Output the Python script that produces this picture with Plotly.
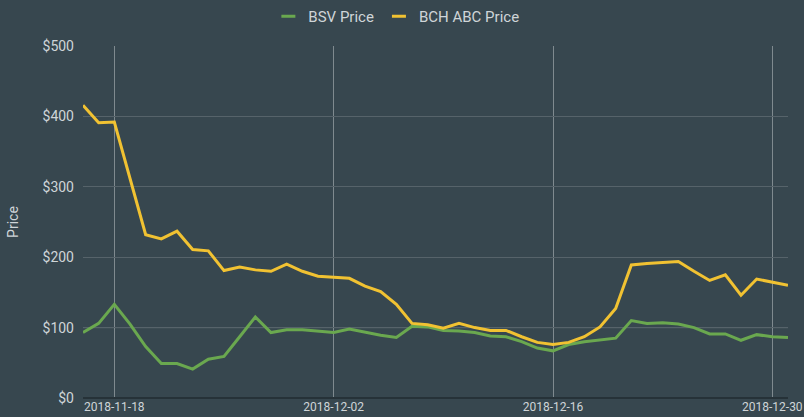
import plotly.graph_objects as go
import pandas as pd

dates = pd.date_range("2018-11-16", "2018-12-31", freq="D").strftime("%Y-%m-%d").tolist()

bsv_price = [93, 106, 133, 105, 73, 49, 49, 41, 55, 59, 87, 115, 93, 97, 97, 95,
             93, 98, 93, 89, 86, 102, 101, 96, 95, 93, 88, 87, 80, 71, 67, 76,
             80, 82, 85, 110, 106, 107, 105, 100, 91, 91, 82, 90, 87, 86]

bch_abc_price = [416, 391, 392, 313, 232, 226, 237, 211, 209, 181, 186, 182, 180, 190, 180, 173,
                 172, 170, 159, 151, 133, 106, 104, 99, 106, 100, 96, 96, 87, 79, 76, 79,
                 87, 101, 127, 189, 191, 193, 194, 180, 167, 175, 146, 169, 165, 160]

y_ticks = [0, 100, 200, 300, 400, 500]
y_tick_labels = ["$0", "$100", "$200", "$300", "$400", "$500"]
x_ticks = ["2018-11-18", "2018-12-02", "2018-12-16", "2018-12-30"]

BG = "#37474f"
TXT = "#cfd5d8"
GREEN = "#6aa84f"
YELLOW = "#f1c232"

fig = go.Figure()
fig.add_trace(go.Scatter(x=dates, y=bsv_price, name="BSV Price", mode="lines",
                         line=dict(color=GREEN, width=3), showlegend=False))
fig.add_trace(go.Scatter(x=dates, y=bch_abc_price, name="BCH ABC Price", mode="lines",
                         line=dict(color=YELLOW, width=3), showlegend=False))
# legend-only entries with short dash symbols
for nm, col in [("BSV Price", GREEN), ("BCH ABC Price", YELLOW)]:
    fig.add_trace(go.Scatter(x=[None], y=[None], name=nm, mode="markers",
                             marker=dict(symbol="line-ew", size=10,
                                         line=dict(color=col, width=3)),
                             showlegend=True, hoverinfo="skip"))

fig.add_shape(type="line", xref="paper", x0=0, x1=1, yref="y", y0=100, y1=100,
              line=dict(color="#7f8a8f", width=1), layer="below")

fig.update_layout(
    width=804, height=417,
    paper_bgcolor=BG, plot_bgcolor=BG,
    margin=dict(l=83, r=16, t=46, b=19, autoexpand=False),
    font=dict(family="Roboto, sans-serif", color=TXT, size=12),
    showlegend=True,
    legend=dict(orientation="h", x=0.493, xanchor="center", xref="container",
                y=1.0, yanchor="top", yref="container",
                font=dict(size=15, color=TXT), bgcolor="rgba(0,0,0,0)",
                itemwidth=30, tracegroupgap=0),
    xaxis=dict(
        range=[dates[0], dates[-1]],
        tickvals=x_ticks, ticktext=x_ticks,
        showgrid=True, gridcolor="#7f8a8f", gridwidth=1,
        showline=False, zeroline=False, ticks="",
        tickfont=dict(size=12, color=TXT),
    ),
    yaxis=dict(
        range=[0, 500],
        tickvals=y_ticks, ticktext=y_tick_labels,
        showgrid=True, gridcolor="#56636a", gridwidth=1,
        zeroline=True, zerolinecolor="#263238", zerolinewidth=2,
        ticks="", ticklabelstandoff=8,
        tickfont=dict(size=14, color=TXT),
        title=dict(text="Price", font=dict(size=14, color=TXT), standoff=20),
    ),
)

fig.write_html("out.html", config={"displayModeBar": False},
               post_script="document.body.style.margin='0';document.body.style.overflow='hidden';")
